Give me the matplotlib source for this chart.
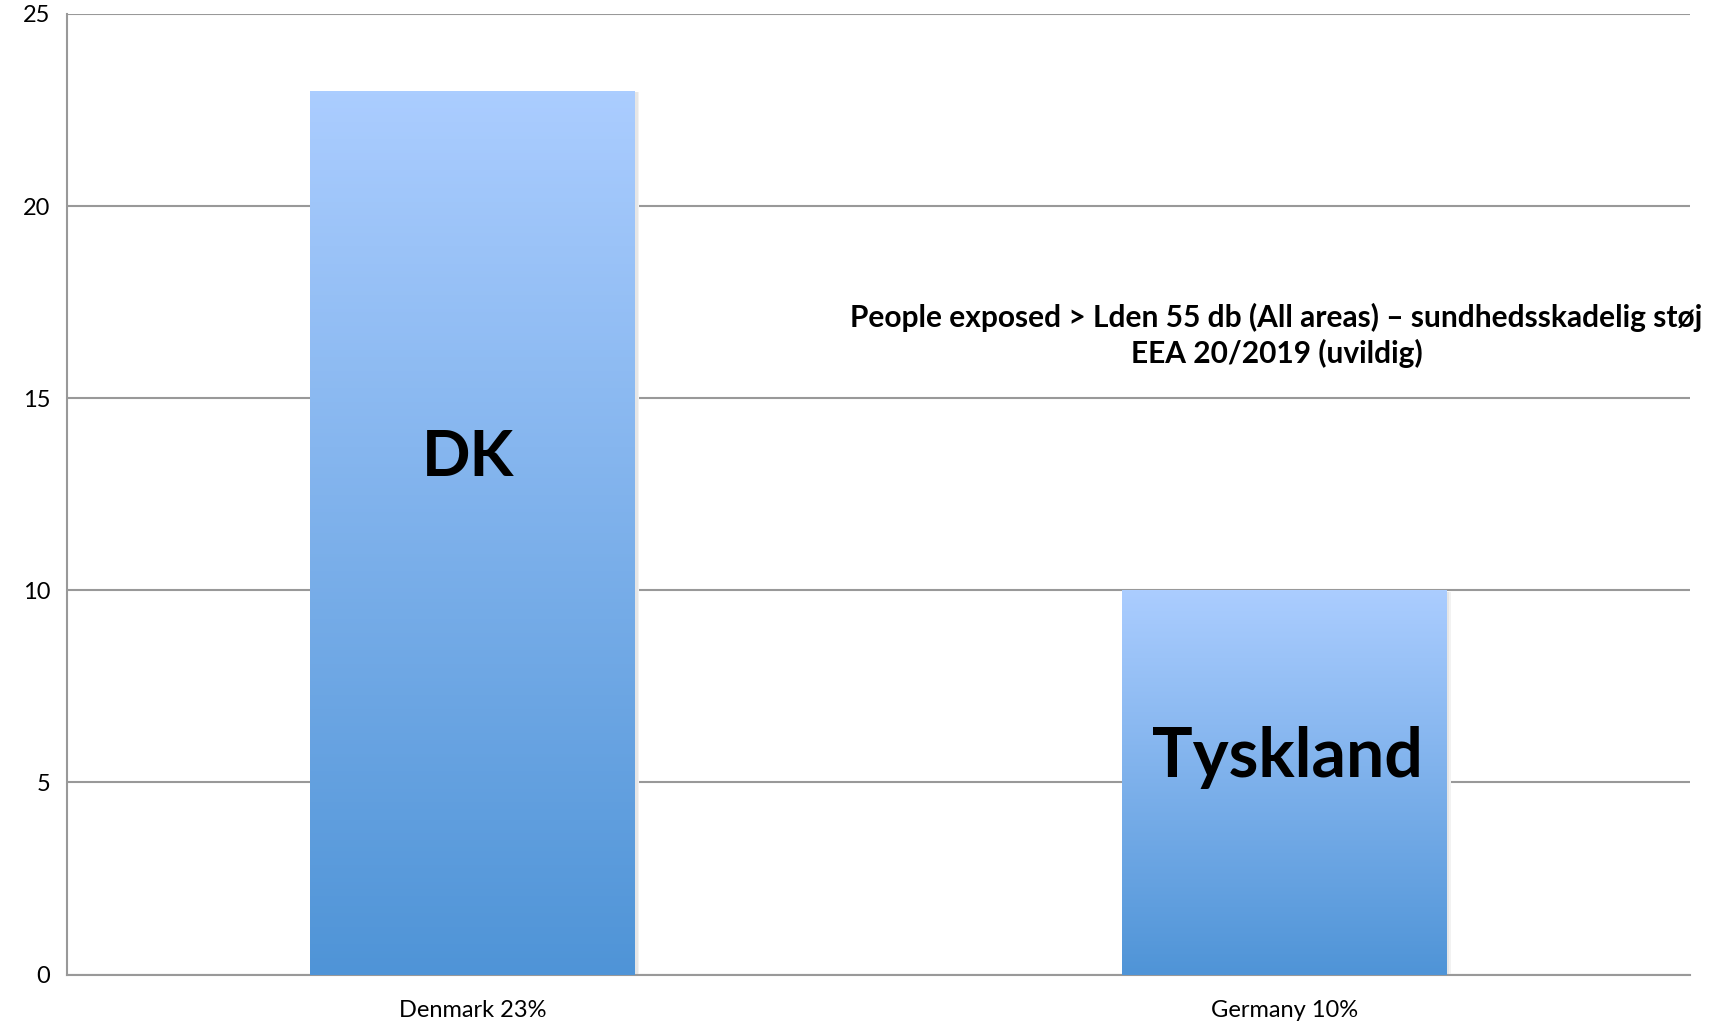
import numpy as np
import matplotlib
matplotlib.use("Agg")
import matplotlib.pyplot as plt
from matplotlib.colors import LinearSegmentedColormap

categories = ["Denmark 23%", "Germany 10%"]
values = [23, 10]
bar_labels = ["DK", "Tyskland"]
yticks = [0, 5, 10, 15, 20, 25]
note = "People exposed > Lden 55 db (All areas) \u2013 sundhedsskadelig st\u00f8j\nEEA 20/2019 (uvildig)"

plt.rcParams['font.family'] = ['Lato', 'DejaVu Sans']

fig = plt.figure(figsize=(17.17, 10.26), dpi=100)
ax = fig.add_axes([0.039, 0.0501, 0.9455, 0.9363])

x = np.arange(len(categories))
width = 0.4
bars = ax.bar(x, values, width=width, color='none', edgecolor='none', zorder=3)

cmap = LinearSegmentedColormap.from_list("grad", ["#4f94d7", "#abcdff"])
grad = np.linspace(0, 1, 256).reshape(-1, 1)
for b in bars:
    x0, w, h = b.get_x(), b.get_width(), b.get_height()
    # subtle soft shadow
    for off, col in [(0.005, '#f2f2f2'), (0.003, '#e6e6e6')]:
        ax.bar(x0 + w / 2 + off, h, width=w, bottom=-0.04, color=col,
               edgecolor='none', zorder=2)
    ax.imshow(grad, cmap=cmap, origin='lower', aspect='auto',
              extent=[x0, x0 + w, 0, h], zorder=3)

label_y = [13.45, 5.65]
label_dx = [-0.006, 0.004]
label_sizes = [46, 49]
for xi, lab, ly, dx, fs in zip(x, bar_labels, label_y, label_dx, label_sizes):
    ax.text(xi + dx, ly, lab, ha='center', va='center', fontsize=fs,
            fontweight='bold', color='black', zorder=5)

ax.text(0.99, 16.64, note, ha='center', va='center', fontsize=21.5,
        fontweight='bold', color='black', linespacing=1.3, zorder=5)

ax.set_xlim(-0.5, 1.5)
ax.set_ylim(0, 25)
ax.set_yticks(yticks)
ax.set_xticks(x)
ax.set_xticklabels(categories)
ax.tick_params(axis='both', length=0, labelsize=17, colors='black')
ax.tick_params(axis='x', pad=18)
ax.tick_params(axis='y', pad=12)
ax.grid(axis='y', color='#999999', linewidth=1.5, zorder=1)
ax.set_axisbelow(True)
for s in ['top', 'right']:
    ax.spines[s].set_visible(False)
for s in ['left', 'bottom']:
    ax.spines[s].set_color('#999999')
    ax.spines[s].set_linewidth(1.5)

fig.savefig("out.png", dpi=100, facecolor='white')
